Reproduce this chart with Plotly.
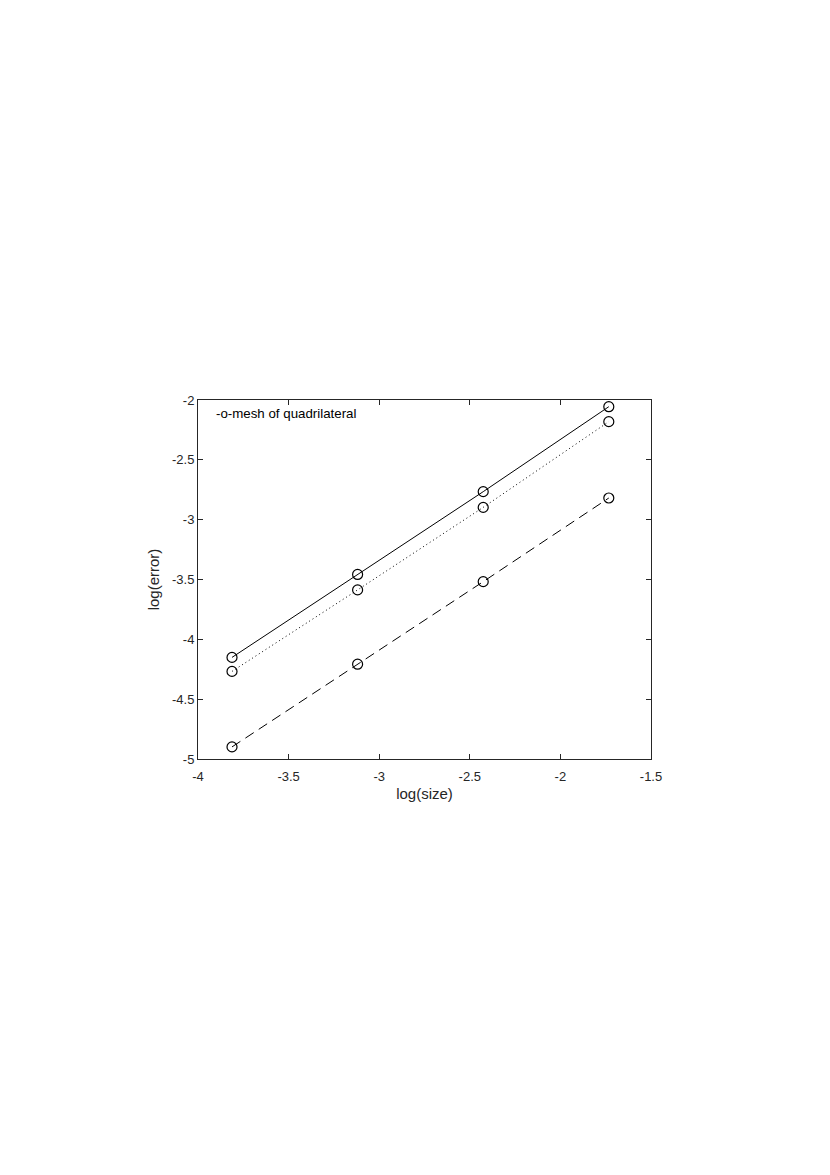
import plotly.graph_objects as go

# log(size) for the four meshes
log_size = [-3.8123, -3.1192, -2.4260, -1.7329]

# log(error) for the three error measures
err_solid = [-4.151, -3.458, -2.766, -2.056]
err_dotted = [-4.268, -3.587, -2.897, -2.181]
err_dashed = [-4.899, -4.208, -3.518, -2.819]

x_ticks = [-4, -3.5, -3, -2.5, -2, -1.5]
y_ticks = [-5, -4.5, -4, -3.5, -3, -2.5, -2]

FONT = "Liberation Sans, Arial"
INK = "#262626"

fig = go.Figure()

for ys, dash in [(err_solid, "solid"), (err_dotted, "1px,3px"), (err_dashed, "10px,6px")]:
    fig.add_trace(
        go.Scatter(
            x=log_size,
            y=ys,
            mode="lines+markers",
            line=dict(color="black", width=1, dash=dash),
            marker=dict(symbol="circle-open", size=10, color="black", line=dict(width=1.2, color="black")),
            showlegend=False,
        )
    )

axis_common = dict(
    showgrid=False,
    zeroline=False,
    showline=True,
    linecolor=INK,
    linewidth=1,
    mirror="ticks",
    ticks="inside",
    ticklen=5,
    tickcolor=INK,
    tickfont=dict(family=FONT, size=13, color=INK),
)

fig.update_xaxes(
    range=[-4, -1.5],
    tickvals=x_ticks,
    ticktext=[f"{v:g}" for v in x_ticks],
    ticklabelstandoff=5,
    title=dict(text="log(size)", font=dict(family=FONT, size=15, color=INK), standoff=5),
    **axis_common,
)
fig.update_yaxes(
    range=[-5, -2],
    tickvals=y_ticks,
    ticktext=[f"{v:g}" for v in y_ticks],
    title=dict(text="log(error)", font=dict(family=FONT, size=15, color=INK), standoff=8),
    **axis_common,
)

fig.add_annotation(
    x=0.035, y=0.962, xref="paper", yref="paper",
    text="-o-mesh of quadrilateral",
    showarrow=False, xanchor="left", yanchor="middle",
    font=dict(family=FONT, size=13.3, color="black"),
)

fig.update_layout(
    width=830,
    height=1175,
    margin=dict(l=190, r=187, t=392, b=424),
    plot_bgcolor="white",
    paper_bgcolor="white",
)

fig.write_html("out.html")
